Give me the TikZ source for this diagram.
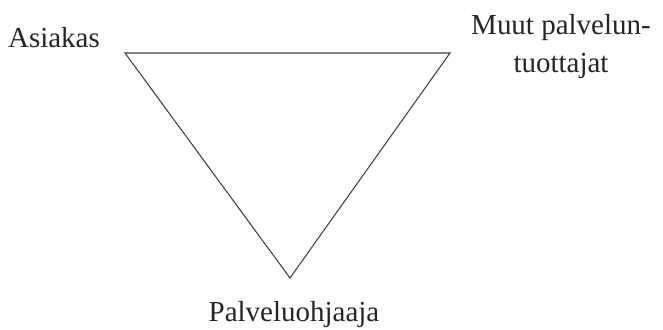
\documentclass[tikz,border=0pt]{standalone}
\usepackage{fontspec}
\setmainfont{Liberation Serif}
\usepackage{tikz}

\begin{document}
\begin{tikzpicture}[x=0.02cm,y=-0.02cm,
    side/.style={black!75,line width=.6pt},
    tag/.style={anchor=base,text=black!85,font=\fontsize{16.5}{21.6}\selectfont}]
    \useasboundingbox (0,0) rectangle (663,329);
    \coordinate (asiakas) at (125,53);
    \coordinate (muut) at (450,53);
    \coordinate (ohjaaja) at (290,278);
    \draw[side] (asiakas) -- (muut) -- (ohjaaja) -- cycle;
    \node[tag] (asiakasText) at (54,47) {Asiakas};
    % base of a two-line node sits on its last line
    \node[tag,align=center] (muutText) at (561,72) {Muut palvelun-\\tuottajat};
    \node[tag] (ohjaajaText) at (294,321) {Palveluohjaaja};
  \end{tikzpicture}
\end{document}
